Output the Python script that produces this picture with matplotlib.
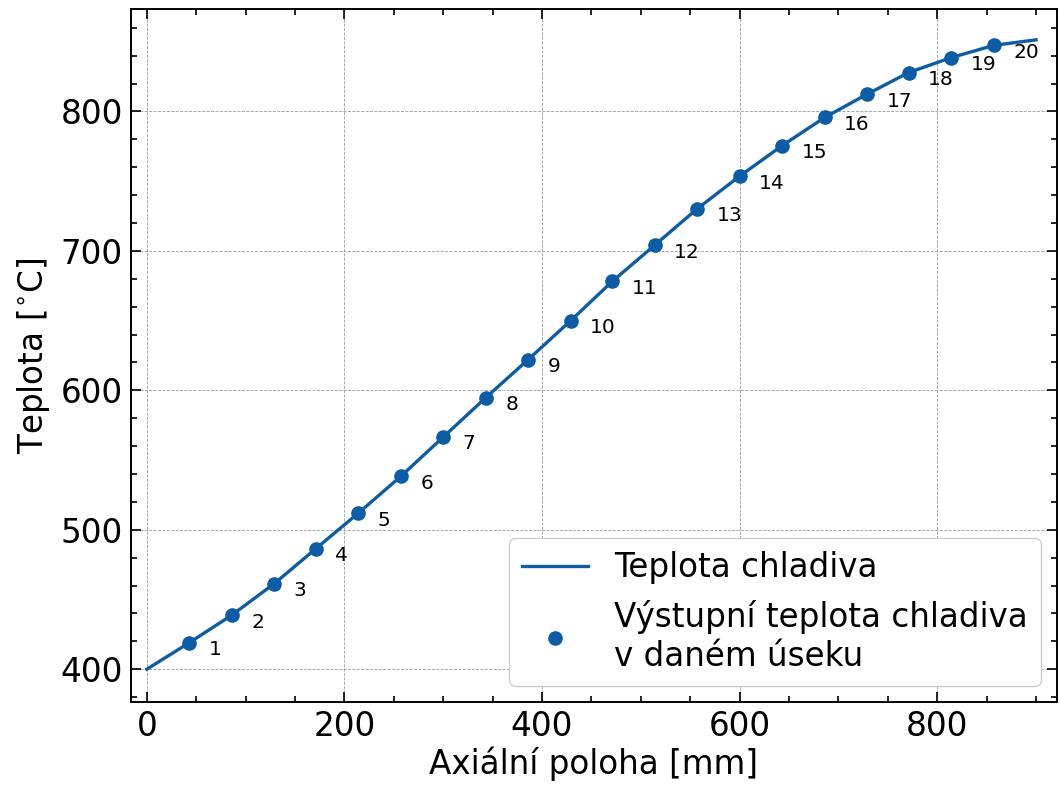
import numpy as np
import matplotlib.pyplot as plt
from matplotlib.ticker import MultipleLocator

# axial position of the section outlets [mm] and outlet coolant temperature [C]
seg_x = [43, 86, 129, 171, 214, 257, 300, 343, 386, 429,
         471, 514, 557, 600, 643, 686, 729, 771, 814, 857]
seg_t = [419.0, 438.8, 461.4, 486.4, 511.9, 538.3, 566.5, 594.7, 622.1, 650.0,
         678.1, 704.1, 730.2, 753.6, 775.5, 795.7, 812.4, 827.9, 838.6, 847.4]
seg_lab = [str(i) for i in range(1, 21)]

# coolant temperature profile along the channel
line_x = [0] + seg_x + [900]
line_t = [400.0] + seg_t + [851.4]

col = '#0C5DA5'

plt.rcParams['font.family'] = 'DejaVu Sans'
plt.rcParams['mathtext.fontset'] = 'dejavusans'

fig = plt.figure(figsize=(10.6, 7.89), dpi=100)
ax = fig.add_axes([0.1236, 0.1103, 0.8734, 0.8783])

ax.plot(line_x, line_t, color=col, lw=2.4, label='Teplota chladiva', zorder=3)
ax.plot(seg_x, seg_t, 'o', color=col, ms=9.5,
        label='Výstupní teplota chladiva\nv daném úseku', zorder=4)
for xx, tt, lab in zip(seg_x, seg_t, seg_lab):
    ax.annotate(lab, (xx, tt), xytext=(14, -5), textcoords='offset points',
                ha='left', va='center', fontsize=14.5)

ax.set_xlim(-16, 921)
ax.set_ylim(376.5, 873.5)
ax.xaxis.set_major_locator(MultipleLocator(200))
ax.xaxis.set_minor_locator(MultipleLocator(50))
ax.yaxis.set_major_locator(MultipleLocator(100))
ax.yaxis.set_minor_locator(MultipleLocator(20))
ax.tick_params(which='both', direction='in', top=True, right=True, labelsize=23.5, width=1.2)
ax.tick_params(which='major', length=7, pad=6)
ax.tick_params(which='minor', length=4)
for s in ax.spines.values():
    s.set_linewidth(1.4)

ax.grid(True, which='major', color='gray', linestyle='--', linewidth=0.6, alpha=0.8)

ax.set_xlabel('Axiální poloha [mm]', fontsize=23.5, labelpad=2)
ax.set_ylabel('Teplota [$^{\\circ}$C]', fontsize=23.5, labelpad=6)

ax.legend(loc='lower right', fontsize=23.5, framealpha=1, edgecolor='#cccccc',
          borderaxespad=0.5, handlelength=2, labelspacing=0.5)

plt.savefig('out.png', dpi=100)
